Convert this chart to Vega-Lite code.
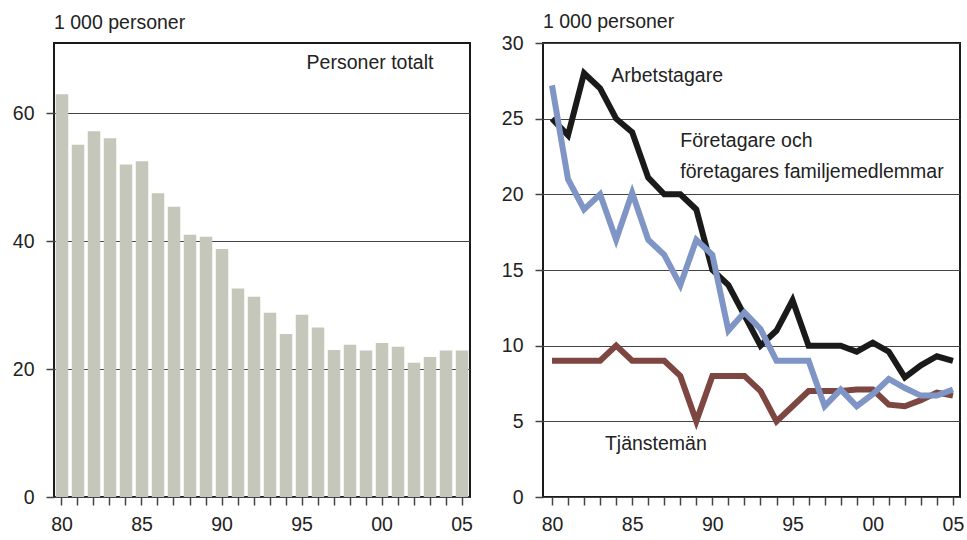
{
  "$schema": "https://vega.github.io/schema/vega-lite/v6.json",
  "background": "white",
  "padding": {"left": 5, "top": 10, "right": 5, "bottom": 0},
  "bounds": "flush",
  "config": {
    "font": "Liberation Sans",
    "view": {"stroke": "#1a1a1a", "strokeWidth": 2},
    "axis": {
      "labelFont": "Liberation Sans",
      "labelFontSize": 19.5,
      "labelColor": "#222222",
      "domain": false,
      "tickColor": "#444444",
      "tickSize": 8,
      "tickWidth": 1.5,
      "gridColor": "#444444",
      "gridWidth": 1
    },
    "title": {"font": "Liberation Sans", "fontSize": 19.5, "fontWeight": "normal", "anchor": "start", "color": "#222222", "frame": "group"},
    "text": {"font": "Liberation Sans", "fontSize": 19.5, "color": "#222222", "baseline": "middle"}
  },
  "data": {
    "values": [
      {"year": 1980, "total": 63.0, "arbetstagare": 25.0, "foretagare": 27.2, "tjansteman": 9.0},
      {"year": 1981, "total": 55.1, "arbetstagare": 23.9, "foretagare": 21.0, "tjansteman": 9.0},
      {"year": 1982, "total": 57.2, "arbetstagare": 28.0, "foretagare": 19.0, "tjansteman": 9.0},
      {"year": 1983, "total": 56.1, "arbetstagare": 27.0, "foretagare": 20.0, "tjansteman": 9.0},
      {"year": 1984, "total": 52.0, "arbetstagare": 25.0, "foretagare": 17.0, "tjansteman": 10.0},
      {"year": 1985, "total": 52.5, "arbetstagare": 24.1, "foretagare": 20.1, "tjansteman": 9.0},
      {"year": 1986, "total": 47.5, "arbetstagare": 21.1, "foretagare": 17.0, "tjansteman": 9.0},
      {"year": 1987, "total": 45.4, "arbetstagare": 20.0, "foretagare": 16.0, "tjansteman": 9.0},
      {"year": 1988, "total": 41.0, "arbetstagare": 20.0, "foretagare": 14.0, "tjansteman": 8.0},
      {"year": 1989, "total": 40.7, "arbetstagare": 19.0, "foretagare": 17.0, "tjansteman": 5.0},
      {"year": 1990, "total": 38.8, "arbetstagare": 15.0, "foretagare": 16.0, "tjansteman": 8.0},
      {"year": 1991, "total": 32.6, "arbetstagare": 14.0, "foretagare": 11.0, "tjansteman": 8.0},
      {"year": 1992, "total": 31.3, "arbetstagare": 12.0, "foretagare": 12.2, "tjansteman": 8.0},
      {"year": 1993, "total": 28.8, "arbetstagare": 10.0, "foretagare": 11.1, "tjansteman": 7.0},
      {"year": 1994, "total": 25.5, "arbetstagare": 11.0, "foretagare": 9.0, "tjansteman": 5.0},
      {"year": 1995, "total": 28.5, "arbetstagare": 13.0, "foretagare": 9.0, "tjansteman": 6.0},
      {"year": 1996, "total": 26.5, "arbetstagare": 10.0, "foretagare": 9.0, "tjansteman": 7.0},
      {"year": 1997, "total": 23.0, "arbetstagare": 10.0, "foretagare": 6.0, "tjansteman": 7.0},
      {"year": 1998, "total": 23.8, "arbetstagare": 10.0, "foretagare": 7.1, "tjansteman": 7.0},
      {"year": 1999, "total": 22.9, "arbetstagare": 9.6, "foretagare": 6.0, "tjansteman": 7.1},
      {"year": 2000, "total": 24.1, "arbetstagare": 10.2, "foretagare": 6.8, "tjansteman": 7.1},
      {"year": 2001, "total": 23.5, "arbetstagare": 9.6, "foretagare": 7.8, "tjansteman": 6.1},
      {"year": 2002, "total": 21.0, "arbetstagare": 7.9, "foretagare": 7.2, "tjansteman": 6.0},
      {"year": 2003, "total": 21.9, "arbetstagare": 8.7, "foretagare": 6.7, "tjansteman": 6.4},
      {"year": 2004, "total": 22.9, "arbetstagare": 9.3, "foretagare": 6.7, "tjansteman": 6.9},
      {"year": 2005, "total": 22.9, "arbetstagare": 9.0, "foretagare": 7.1, "tjansteman": 6.7}
    ]
  },
  "spacing": 73,
  "hconcat": [
    {
      "width": 416,
      "height": 454,
      "title": {"text": "1 000 personer", "offset": 10},
      "layer": [
        {
          "mark": {"type": "bar", "color": "#c4c7ba"},
          "encoding": {
            "x": {
              "field": "year", "type": "ordinal",
              "scale": {"paddingInner": 0.22, "paddingOuter": 0.11},
              "axis": {"title": null, "labelAngle": 0, "labelPadding": 10, "grid": false,
                       "labelExpr": "datum.value % 5 == 0 ? substring(toString(datum.value), 2) : ''"}
            },
            "y": {
              "field": "total", "type": "quantitative",
              "scale": {"domain": [0, 71], "nice": false},
              "axis": {"title": null, "values": [0, 20, 40, 60], "grid": true, "labelPadding": 12, "minExtent": 48}
            }
          }
        },
        {
          "data": {"values": [{"year": 1999, "value": 67.8, "label": "Personer totalt"}]},
          "mark": {"type": "text", "align": "center", "dx": 4},
          "encoding": {
            "x": {"field": "year", "type": "ordinal"},
            "y": {"field": "value", "type": "quantitative"},
            "text": {"field": "label"}
          }
        }
      ]
    },
    {
      "width": 417,
      "height": 454,
      "title": {"text": "1 000 personer", "offset": 1},
      "encoding": {
        "x": {
          "field": "year", "type": "quantitative",
          "scale": {"domain": [1979.44, 2005.44], "nice": false, "zero": false},
          "axis": {"title": null, "grid": false, "labelPadding": 10, "labelFlush": false, "labelOverlap": false,
                   "values": [1980,1981,1982,1983,1984,1985,1986,1987,1988,1989,1990,1991,1992,1993,1994,1995,1996,1997,1998,1999,2000,2001,2002,2003,2004,2005],
                   "labelExpr": "datum.value % 5 == 0 ? substring(toString(datum.value), 2) : ''"}
        }
      },
      "layer": [
        {
          "mark": {"type": "line", "color": "#7d4640", "strokeWidth": 6, "strokeJoin": "miter", "strokeCap": "butt"},
          "encoding": {
            "y": {
              "field": "tjansteman", "type": "quantitative",
              "scale": {"domain": [0, 30], "nice": false},
              "axis": {"title": null, "values": [0, 5, 10, 15, 20, 25, 30], "grid": true, "labelPadding": 12, "minExtent": 48}
            }
          }
        },
        {
          "mark": {"type": "line", "color": "#1a1a1a", "strokeWidth": 6, "strokeJoin": "miter", "strokeCap": "butt"},
          "encoding": {"y": {"field": "arbetstagare", "type": "quantitative"}}
        },
        {
          "mark": {"type": "line", "color": "#7f95c5", "strokeWidth": 6, "strokeJoin": "miter", "strokeCap": "butt"},
          "encoding": {"y": {"field": "foretagare", "type": "quantitative"}}
        },
        {
          "data": {"values": [
            {"year": 1983.7, "value": 27.8, "label": "Arbetstagare"},
            {"year": 1988.0, "value": 23.5, "label": "Företagare och"},
            {"year": 1988.0, "value": 21.5, "label": "företagares familjemedlemmar"},
            {"year": 1983.3, "value": 3.5, "label": "Tjänstemän"}
          ]},
          "mark": {"type": "text", "align": "left"},
          "encoding": {
            "y": {"field": "value", "type": "quantitative"},
            "text": {"field": "label"}
          }
        }
      ]
    }
  ]
}
